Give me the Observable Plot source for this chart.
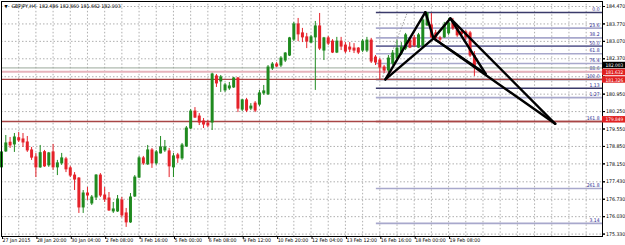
<!DOCTYPE html>
<html><head><meta charset="utf-8">
<script src="https://cdn.jsdelivr.net/npm/d3@7"></script>
<script src="https://cdn.jsdelivr.net/npm/@observablehq/plot@0.6"></script>
<style>
html,body{margin:0;padding:0;background:#fff;}
#chart svg{display:block;}
</style>
</head><body><div id="chart"></div>
<script>
// ---- data ----
const title = "GBPJPY,H4  182.486 182.660 181.662 182.003";
const xTickIdx = [0, 8, 16, 24, 32, 40, 48, 56, 64, 72, 80, 88, 96, 104];
const xTickLabels = ["27 Jan 2015","28 Jan 20:00","30 Jan 04:00","2 Feb 08:00","3 Feb 16:00","5 Feb 00:00","6 Feb 08:00","9 Feb 12:00","10 Feb 20:00","12 Feb 04:00","13 Feb 12:00","16 Feb 16:00","18 Feb 00:00","19 Feb 08:00"];
// grid levels (181.650 is hidden behind the price boxes in the reference)
const yGrid = [184.470,183.770,183.070,182.370,181.650,180.950,180.250,179.550,178.850,178.150,177.430,176.730,176.030,175.330];
const yLabelTicks = [184.470,183.770,183.070,182.370,180.950,180.250,179.550,178.850,178.150,177.430,176.730,176.030,175.330];

const O = [
178.01,178.65,179.00,178.93,179.18,179.13,179.01,178.69,178.41,178.01,
178.62,178.09,178.61,178.01,178.17,178.33,177.97,177.68,177.56,176.40,
176.96,176.56,176.80,177.68,176.88,176.76,176.24,176.24,176.68,176.16,
175.80,176.84,177.60,178.37,178.13,178.69,178.17,178.57,178.69,178.65,
178.01,178.49,178.37,178.85,179.57,180.25,180.05,179.85,179.77,179.81,
181.66,181.46,181.10,181.18,181.22,181.58,180.33,180.70,180.37,180.57,
180.53,180.98,180.94,181.98,182.14,182.10,182.30,182.50,183.14,183.75,
183.39,183.23,183.02,183.23,183.67,182.70,183.19,183.06,182.62,183.06,
182.90,182.82,182.78,182.78,182.70,182.70,183.10,182.42,182.30,182.02,
181.90,182.18,182.38,182.58,182.78,183.10,183.19,182.82,182.90,183.71,
183.71,183.39,183.19,183.23,183.39,183.79,183.59,183.43,183.43,183.39,
182.486];
const H = [
178.77,179.29,179.21,179.37,179.41,179.37,179.25,178.81,178.57,178.89,
178.69,178.61,178.93,178.29,178.57,178.41,178.05,177.80,177.60,177.08,
177.20,176.88,177.72,177.76,177.20,177.00,176.60,176.88,176.80,176.36,
176.96,177.68,178.45,178.45,178.89,178.77,178.69,179.25,179.09,178.77,
178.57,178.57,178.97,179.65,180.33,180.41,180.17,179.97,179.89,181.79,
181.74,181.70,181.38,181.42,181.62,181.62,180.74,180.78,180.57,180.65,
181.10,181.30,182.10,182.22,182.22,182.46,182.62,183.23,183.83,183.99,
183.59,183.39,183.31,183.87,184.19,183.23,183.27,183.14,183.23,183.23,
183.02,183.02,182.98,182.82,183.14,183.23,183.19,182.50,182.38,182.10,
182.50,182.70,183.10,183.02,183.39,183.23,183.31,183.39,183.99,184.23,
184.19,183.51,183.27,183.83,183.99,183.99,183.63,183.55,183.51,183.47,
182.660];
const L = [
177.89,178.61,178.77,178.61,179.01,178.81,178.61,178.29,177.60,177.97,
178.01,178.01,177.89,177.68,178.09,177.80,177.60,177.08,176.16,176.16,
176.68,176.48,176.68,176.80,176.60,176.24,176.16,176.20,175.98,175.60,
175.76,176.80,177.56,178.09,178.09,177.97,178.09,178.55,178.61,177.60,
177.60,178.17,178.29,178.81,179.53,179.97,179.69,179.57,179.61,179.49,
181.22,181.02,181.02,181.10,181.18,180.21,180.25,180.21,180.29,180.21,
180.45,180.90,180.90,181.90,182.02,182.02,182.22,182.46,183.06,183.06,
183.02,182.78,182.98,181.10,182.70,182.30,182.90,182.58,182.58,182.70,
182.58,182.62,182.58,182.54,182.62,182.62,182.18,182.10,181.54,181.78,
181.82,182.10,182.34,182.50,182.70,182.78,182.82,182.78,182.82,183.67,
183.19,183.10,183.02,183.19,183.31,183.51,183.23,183.27,183.10,182.42,
181.662];
const C = [
178.61,178.97,178.89,179.21,179.09,179.01,178.69,178.40,178.01,178.58,
178.05,178.57,178.01,178.17,178.37,177.93,177.68,177.52,176.40,176.96,
176.88,176.80,177.68,176.88,176.72,176.28,176.32,176.72,176.08,175.80,
176.80,177.60,178.37,178.17,178.69,178.17,178.61,178.81,178.81,178.05,
178.45,178.37,178.89,179.57,180.25,180.01,179.81,179.73,179.69,181.74,
181.38,181.62,181.30,181.26,181.58,180.37,180.70,180.29,180.45,180.29,
180.98,181.06,182.02,182.14,182.06,182.38,182.58,183.19,183.75,183.35,
183.23,183.06,183.23,183.67,182.78,183.19,182.98,182.62,183.06,182.86,
182.66,182.74,182.70,182.62,183.06,183.10,182.26,182.22,182.02,181.90,
182.38,182.58,182.78,182.82,183.31,182.82,182.90,183.31,183.91,184.19,
183.23,183.19,183.14,183.71,183.79,183.59,183.31,183.35,183.23,182.50,
182.003];

// horizontal price lines
const hLinePrices = [182.003, 181.85, 181.54, 179.849];
const hLineColors = ["#9aa89a", "#e6b3bb", "#a84545", "#a84545"];
const hLineWidths = [1, 2.2, 1.3, 1.6];

// price boxes on the axis
const boxPrices = [182.003, 181.632, 181.326, 179.849];
const boxY = [182.10, 181.82, 181.52, 179.92];
const boxColors = ["#000000", "#e02020", "#e02020", "#e02020"];

// fibonacci levels
const fibLabels = ["0.0","23.6","38.2","50.0","61.8","76.4","88.6","100.0","1.13","1.27","161.8","261.8","3.14"];
const fibPrices = [184.23,183.60,183.21,182.88,182.57,182.18,181.85,181.54,181.19,180.81,179.85,177.16,175.76];
const fibColors = ["#3a3a6a","#a8a8cc","#a8a8cc","#6a6a9a","#a8a8cc","#a8a8cc","#a8a8cc","#3a3a6a","#3a3a6a","#a8a8cc","#a84545","#a8a8cc","#a8a8cc"];
const fibStart = 87.2, fibEnd = 139.8;
const fibAnchor1 = {i: 88.4, p: 181.54}, fibAnchor2 = {i: 94.4, p: 184.23};

// harmonic pattern points (bar index, price)
const ptNames = ["X","A","B","C","D1","D2"];
const ptIdx = [89.3, 98.6, 100.5, 104.4, 112.6, 128.8];
const ptPrice = [181.54, 184.24, 183.19, 183.99, 181.77, 179.76];
const segments = [["X","A"],["A","B"],["B","C"],["C","D1"],["X","B"],["B","D1"],["B","D2"],["C","D2"]];

// ---- build ----
const bars = O.map((o, i) => ({i, o, h: H[i], l: L[i], c: C[i]}));
const green = "#1f8a1f", red = "#e5222a";
const col = d => d.c >= d.o ? green : red;
const pts = Object.fromEntries(ptNames.map((n, k) => [n, {i: ptIdx[k], p: ptPrice[k]}]));
const links = segments.map(([a, b]) => ({x1: pts[a].i, y1: pts[a].p, x2: pts[b].i, y2: pts[b].p}));
const fib = fibLabels.map((t, k) => ({t, p: fibPrices[k], c: fibColors[k]}));
const hLines = hLinePrices.map((p, k) => ({p, c: hLineColors[k], w: hLineWidths[k]}));
const boxes = boxPrices.map((p, k) => ({t: p.toFixed(3), y: boxY[k], c: boxColors[k]}));
const labelMap = new Map(xTickIdx.map((d, k) => [d, xTickLabels[k]]));
const xMax = 139.8, xOuter = 145.4;
const gridX = d3.range(0, 140, 4);

const font = "'Liberation Sans Narrow', 'DejaVu Sans Condensed', 'Liberation Sans', sans-serif";

const chart = Plot.plot({
  width: 625, height: 245,
  marginLeft: 1, marginRight: 23, marginTop: 1, marginBottom: 9,
  x: {domain: [0, xMax], range: [1, 602]},
  y: {domain: [175.33, 184.47], range: [233.6, 6]},
  style: {fontFamily: font, fontSize: "5.2px", fontStretch: "condensed", background: "#fff", overflow: "visible"},
  marks: [
    Plot.ruleX(gridX, {stroke: "#9a9a9a", strokeDasharray: "1.5,2", strokeWidth: 0.8, y1: 175.22, y2: 184.67}),
    Plot.ruleY(yGrid, {stroke: "#9a9a9a", strokeDasharray: "1.5,2", strokeWidth: 0.8, x1: 0, x2: xMax}),
    // fib levels
    Plot.ruleY(fib, {y: "p", x1: fibStart, x2: fibEnd, stroke: "c", strokeWidth: 1.6}),
    Plot.text(fib, {y: "p", x: fibEnd, text: "t", textAnchor: "end", dx: -3, dy: -3.2, fill: "#2a2a90", fontSize: 5}),
    Plot.link([fibAnchor1], {x1: "i", y1: "p", x2: () => fibAnchor2.i, y2: () => fibAnchor2.p, stroke: "#888", strokeDasharray: "1.5,1.5", strokeWidth: 0.8}),
    // horizontal price lines
    Plot.ruleY(hLines, {y: "p", x1: 0, x2: xMax, stroke: "c", strokeWidth: "w"}),
    // candles
    Plot.ruleX(bars, {x: "i", y1: "l", y2: "h", stroke: col, strokeWidth: 1}),
    Plot.ruleX(bars, {x: "i", y1: d => Math.max(d.o, d.c) + 0.02, y2: d => Math.min(d.o, d.c) - 0.02, stroke: col, strokeWidth: 3}),
    // harmonic pattern
    Plot.link(links, {x1: "x1", y1: "y1", x2: "x2", y2: "y2", stroke: "#000", strokeWidth: 2.4, strokeLinecap: "round"}),
    Plot.frame({stroke: "#000", strokeWidth: 1}),
    // axes
    Plot.axisY(yGrid, {anchor: "right", tickSize: 2, text: null, stroke: "#000"}),
    Plot.axisY(yLabelTicks, {anchor: "right", tickSize: 2, tickPadding: 1.5, tickFormat: d => d.toFixed(3), fill: "#000", stroke: "#000", fontSize: 5.2}),
    Plot.axisX(xTickIdx, {anchor: "bottom", tickSize: 3, tickPadding: -1, tickFormat: d => labelMap.get(d), textAnchor: "start", dx: 1, fill: "#000", stroke: "#000", fontSize: 5.2}),
    // price boxes
    Plot.rect(boxes, {x1: xMax, x2: xOuter, y1: d => d.y + 0.13, y2: d => d.y - 0.13, fill: "c"}),
    Plot.text(boxes, {x: xMax, y: "y", text: "t", textAnchor: "start", dx: 3, fill: "#fff", fontSize: 4.8}),
    // title
    Plot.text([title], {frameAnchor: "top-left", dx: 10, dy: 2.5, text: d => d, textAnchor: "start", lineAnchor: "top", fill: "#000", fontSize: 5.2}),
    Plot.text(["▼"], {frameAnchor: "top-left", dx: 3, dy: 3, text: d => d, textAnchor: "start", lineAnchor: "top", fill: "#000", fontSize: 4.5})
  ]
});
document.getElementById("chart").appendChild(chart);
</script>
</body></html>
